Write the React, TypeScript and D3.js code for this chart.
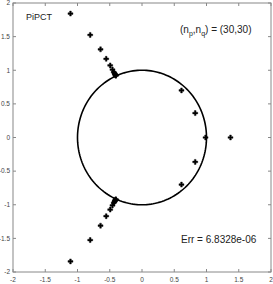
import React, { useEffect, useRef } from "react";
import * as d3 from "d3";

// pole locations
const poleX = [-1.109, -0.803, -0.643, -0.555, -0.493, -0.458, -0.437, -0.425, -0.417, -0.412, -0.409, -0.406,
  -1.109, -0.803, -0.643, -0.555, -0.493, -0.458, -0.437, -0.425, -0.417, -0.412, -0.409, -0.406,
  0.612, 0.825, 0.985, 1.372, 0.825, 0.612];
const poleY = [1.843, 1.525, 1.311, 1.17, 1.072, 1.01, 0.97, 0.952, 0.94, 0.932, 0.926, 0.92,
  -1.843, -1.525, -1.311, -1.17, -1.072, -1.01, -0.97, -0.952, -0.94, -0.932, -0.926, -0.92,
  0.70, 0.363, 0, 0, -0.363, -0.70];
const ticks = [-2, -1.5, -1, -0.5, 0, 0.5, 1, 1.5, 2];
const title = "PiPCT";
const errText = "Err = 6.8328e-06";

export default function App() {
  const ref = useRef<SVGSVGElement>(null);

  useEffect(() => {
    const svg = d3.select(ref.current);
    svg.selectAll("*").remove();
    const x = d3.scaleLinear().domain([-2, 2]).range([13, 271]);
    const y = d3.scaleLinear().domain([-2, 2]).range([272, 3]);
    const g = svg.append("g");
    const font = "Liberation Sans, Arial, sans-serif";

    g.append("rect").attr("x", 13).attr("y", 3).attr("width", 258).attr("height", 269)
      .attr("fill", "white").attr("stroke", "#888").attr("stroke-width", 1);

    const tk = 3;
    ticks.forEach((t) => {
      g.append("line").attr("x1", x(t)).attr("x2", x(t)).attr("y1", 272).attr("y2", 272 - tk).attr("stroke", "#888");
      g.append("line").attr("x1", x(t)).attr("x2", x(t)).attr("y1", 3).attr("y2", 3 + tk).attr("stroke", "#888");
      g.append("line").attr("y1", y(t)).attr("y2", y(t)).attr("x1", 13).attr("x2", 13 + tk).attr("stroke", "#888");
      g.append("line").attr("y1", y(t)).attr("y2", y(t)).attr("x1", 271).attr("x2", 271 - tk).attr("stroke", "#888");
      g.append("text").attr("x", x(t)).attr("y", 282).attr("text-anchor", "middle")
        .attr("font-size", 6.5).attr("font-family", font).attr("fill", "#444").text(String(t));
      g.append("text").attr("x", 10).attr("y", y(t) + 2.3).attr("text-anchor", "end")
        .attr("font-size", 6.5).attr("font-family", font).attr("fill", "#444").text(String(t));
    });

    // unit circle
    const circ = d3.range(0, 361, 2).map((a) => [Math.cos((a * Math.PI) / 180), Math.sin((a * Math.PI) / 180)]);
    g.append("path").attr("d", d3.line().x((d) => x(d[0])).y((d) => y(d[1]))(circ as [number, number][]))
      .attr("fill", "none").attr("stroke", "#000").attr("stroke-width", 1.6);

    const sym = d3.symbol().type(d3.symbolCross).size(14);
    poleX.forEach((px, i) => {
      g.append("path").attr("d", sym()).attr("transform", `translate(${x(px)},${y(poleY[i])})`)
        .attr("fill", "#000").attr("stroke", "#000").attr("stroke-width", 0.4);
    });

    g.append("text").attr("x", 26).attr("y", 20).attr("font-size", 9).attr("font-family", font)
      .attr("fill", "#222").text(title);

    const t = g.append("text").attr("x", 180).attr("y", 33).attr("font-size", 10).attr("font-family", font).attr("fill", "#222");
    t.append("tspan").text("(n");
    t.append("tspan").attr("font-size", 7).attr("dy", 3).text("p");
    t.append("tspan").attr("dy", -3).text(",n");
    t.append("tspan").attr("font-size", 7).attr("dy", 3).text("q");
    t.append("tspan").attr("dy", -3).text(") = (30,30)");

    g.append("text").attr("x", 181).attr("y", 243).attr("font-size", 10).attr("font-family", font)
      .attr("fill", "#222").text(errText);
  }, []);

  return <svg ref={ref} width={273} height={284} style={{ position: "absolute", left: 0, top: 0 }} />;
}
